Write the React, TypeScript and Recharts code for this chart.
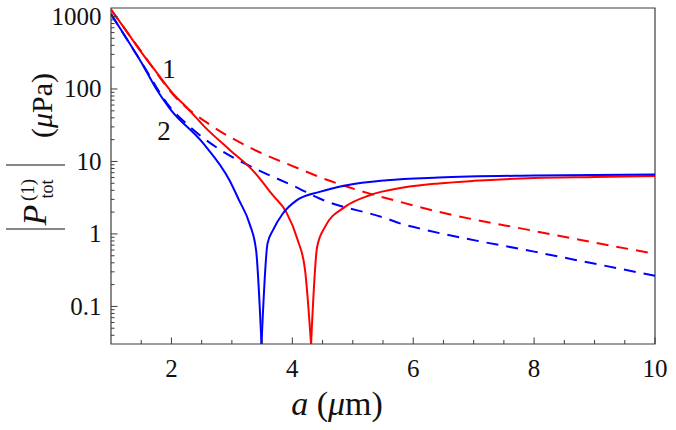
import React from 'react';
import { LineChart, Line, XAxis, YAxis, ReferenceArea, ReferenceDot } from 'recharts';

// ---- data ----
// solid curves: falling branch (down to the zero crossing) and rising branch
const redFallX = [1.0, 1.25, 1.5, 1.75, 2.05, 2.25, 2.55, 2.97, 3.34, 3.68, 3.9, 4.09, 4.21, 4.31];
const redFallY = [1250, 640, 322, 171, 82, 56, 30, 14.3, 7.6, 3.4, 2.0, 0.82, 0.32, 0.0303];
const redRiseX = [4.31, 4.41, 4.54, 4.87, 5.28, 5.84, 6.42, 7.0, 8.0, 9.0, 10.0];
const redRiseY = [0.0303, 0.66, 1.25, 2.36, 3.42, 4.36, 4.97, 5.4, 5.9, 6.1, 6.3];

const blueFallX = [1.0, 1.25, 1.5, 1.75, 1.97, 2.52, 2.96, 3.12, 3.29, 3.4, 3.49];
const blueFallY = [1080, 508, 234, 100, 54, 18, 5.5, 2.9, 1.4, 0.6, 0.0303];
const blueRiseX = [3.49, 3.59, 3.68, 3.84, 4.07, 4.45, 4.9, 5.56, 6.42, 8.0, 10.0];
const blueRiseY = [0.0303, 0.74, 1.13, 1.9, 2.9, 3.8, 4.7, 5.5, 6.0, 6.4, 6.6];

// dashed curves
const redDashX = [1.0, 1.5, 2.08, 2.64, 3.3, 4.07, 4.57, 5.28, 5.78, 6.42, 8.0, 10.0];
const redDashY = [1250, 330, 75, 32, 15.5, 8.2, 5.6, 3.6, 2.77, 2.02, 1.1, 0.53];

const blueDashX = [1.0, 1.5, 1.97, 2.25, 2.8, 3.38, 4.07, 4.45, 5.56, 5.78, 6.22, 8.0, 10.0];
const blueDashY = [1080, 236, 57, 33, 14.6, 8.0, 4.4, 3.08, 1.63, 1.4, 1.13, 0.57, 0.265];

const xDomain = [1, 10];
const yDomain = [0.0303, 1310];
const xMajorTicks = [2, 4, 6, 8, 10];
const xMinorTicks = [1.5, 2.5, 3, 3.5, 4.5, 5, 5.5, 6.5, 7, 7.5, 8.5, 9, 9.5];
const yMajorTicks = [0.1, 1, 10, 100, 1000];
const yDecades = [0.01, 0.1, 1, 10, 100, 1000];
const yMinorMultipliers = [2, 3, 4, 5, 6, 7, 8, 9];

const curveLabels = [
  { text: '1', x: 1.96, y: 192 },
  { text: '2', x: 1.877, y: 26.4 },
];

const toPoints = (xs: number[], ys: number[]) => xs.map((x, i) => ({ x, y: ys[i] }));
const redFall = toPoints(redFallX, redFallY);
const redRise = toPoints(redRiseX, redRiseY);
const blueFall = toPoints(blueFallX, blueFallY);
const blueRise = toPoints(blueRiseX, blueRiseY);
const redDash = toPoints(redDashX, redDashY);
const blueDash = toPoints(blueDashX, blueDashY);

const yMinorTicks = yDecades
  .flatMap((d) => yMinorMultipliers.map((m) => +(m * d).toPrecision(6)))
  .filter((v) => v > yDomain[0] && v < yDomain[1]);
const yTicks = [...yMajorTicks, ...yMinorTicks].sort((a, b) => a - b);
const xTicks = [...xMajorTicks, ...xMinorTicks].sort((a, b) => a - b);

const FONT = '"Liberation Serif", "Times New Roman", Times, serif';
const INK = '#111';
const FRAME = '#3c3c3c';
const textStyle = { fontFamily: FONT };

const isMajor = (arr: number[], v: number) => arr.some((t) => Math.abs(t - v) / t < 1e-9);

const YTick = (props: any) => {
  const { x, y, payload } = props;
  const v = payload.value;
  const major = isMajor(yMajorTicks, v);
  return (
    <g>
      <line x1={x} x2={x + (major ? 6.5 : 3.5)} y1={y} y2={y} stroke={FRAME} strokeWidth={1} />
      {major && (
        <text x={x - 9.5} y={y + 8.5} textAnchor="end" style={textStyle} fontSize={25} fill={INK}>
          {String(v)}
        </text>
      )}
    </g>
  );
};

const XTick = (props: any) => {
  const { x, y, payload } = props;
  const v = payload.value;
  const major = isMajor(xMajorTicks, v);
  return (
    <g>
      <line x1={x} x2={x} y1={y} y2={y - (major ? 6.5 : 4)} stroke={FRAME} strokeWidth={1} />
      {major && (
        <text x={x} y={y + 33} textAnchor="middle" style={textStyle} fontSize={25} fill={INK}>
          {String(v)}
        </text>
      )}
    </g>
  );
};

const XLabel = () => (
  <text x={337} y={415} textAnchor="middle" style={textStyle} fontSize={34} fill={INK}>
    <tspan fontStyle="italic">a</tspan>
    <tspan> (</tspan>
    <tspan fontStyle="italic">μ</tspan>
    <tspan>m)</tspan>
  </text>
);

const YLabel = () => (
  <g transform="translate(46,229) rotate(-90)" style={textStyle} fill={INK}>
    <line x1={0} x2={0} y1={-40} y2={19} stroke={INK} strokeWidth={1.2} />
    <text x={3.5} y={0} fontSize={34} fontStyle="italic" style={textStyle}>P</text>
    <text x={28} y={-12} fontSize={19} style={textStyle}>(1)</text>
    <text x={30.5} y={7} fontSize={18} style={textStyle}>tot</text>
    <line x1={64} x2={64} y1={-40} y2={19} stroke={INK} strokeWidth={1.2} />
    <text x={91} y={5.5} fontSize={30} style={textStyle}>
      <tspan>(</tspan>
      <tspan fontStyle="italic">μ</tspan>
      <tspan>Pa)</tspan>
    </text>
  </g>
);

const lineCommon = { dataKey: 'y', dot: false, isAnimationActive: false, strokeWidth: 2 } as const;

export default function App() {
  return (
    <div style={{ position: 'fixed', left: 0, top: 0, background: '#fff', fontFamily: FONT }}>
      <LineChart width={676} height={430} margin={{ top: 8, right: 21, bottom: 0, left: 0 }} style={textStyle}>
        <XAxis
          dataKey="x"
          type="number"
          domain={xDomain}
          allowDataOverflow
          ticks={xTicks}
          interval={0}
          tick={<XTick />}
          tickLine={false}
          axisLine={false}
          tickSize={0}
          tickMargin={0}
          height={86}
          label={{ content: () => <XLabel /> }}
        />
        <YAxis
          type="number"
          scale="log"
          domain={yDomain}
          allowDataOverflow
          ticks={yTicks}
          interval={0}
          tick={<YTick />}
          tickLine={false}
          axisLine={false}
          tickSize={0}
          tickMargin={0}
          width={111}
          label={{ content: () => <YLabel /> }}
        />
        <ReferenceArea
          x1={xDomain[0]}
          x2={xDomain[1]}
          y1={yDomain[0]}
          y2={yDomain[1]}
          fill="none"
          fillOpacity={0}
          stroke={FRAME}
          strokeWidth={1.2}
          ifOverflow="visible"
        />
        <Line {...lineCommon} data={redDash} type="monotone" stroke="#ff0000" strokeDasharray="12 8" />
        <Line {...lineCommon} data={blueDash} type="monotone" stroke="#0000ff" strokeDasharray="12 8" />
        <Line {...lineCommon} data={redFall} type="monotone" stroke="#ff0000" />
        <Line {...lineCommon} data={redRise} type="monotone" stroke="#ff0000" />
        <Line {...lineCommon} data={blueFall} type="monotone" stroke="#0000ff" />
        <Line {...lineCommon} data={blueRise} type="monotone" stroke="#0000ff" />
        {curveLabels.map((c) => (
          <ReferenceDot
            key={c.text}
            x={c.x}
            y={c.y}
            r={0}
            fill="none"
            stroke="none"
            label={{ value: c.text, position: 'center', fontSize: 27, fill: INK, style: textStyle }}
          />
        ))}
      </LineChart>
    </div>
  );
}
